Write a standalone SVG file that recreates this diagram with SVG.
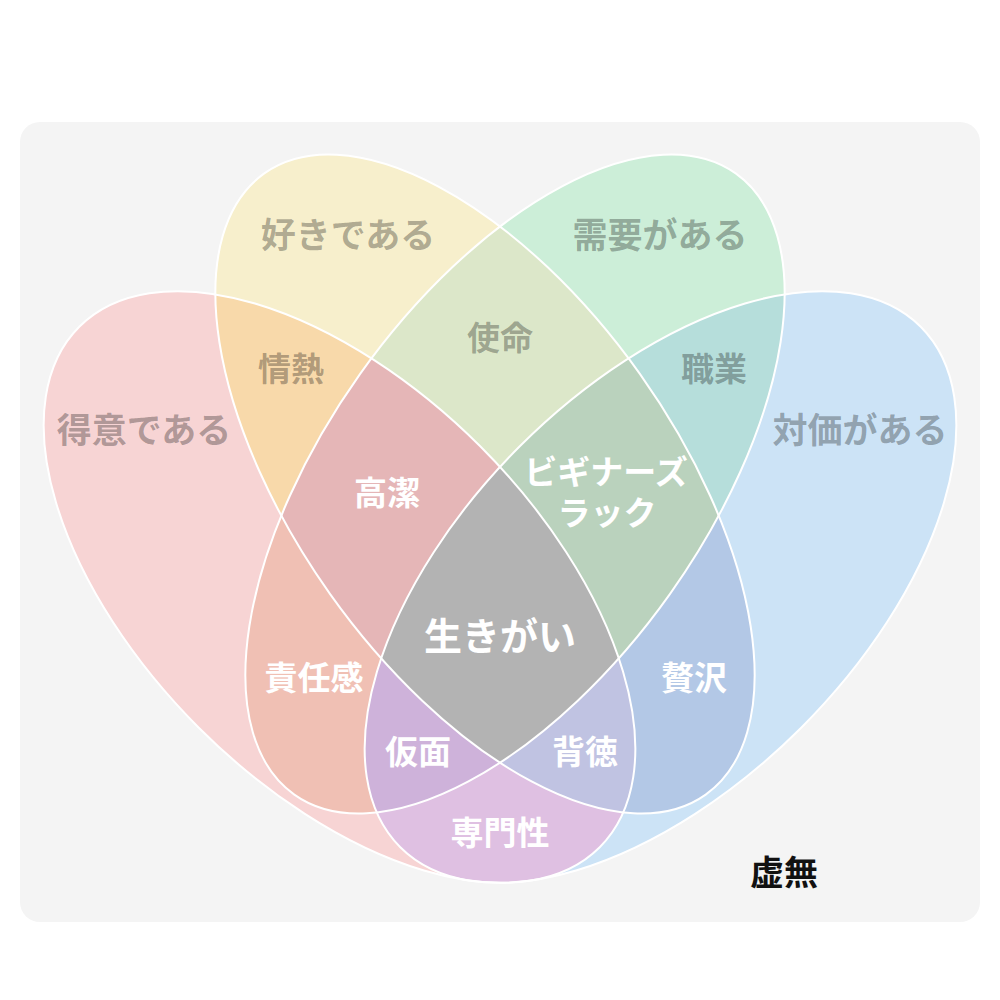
<svg xmlns="http://www.w3.org/2000/svg" xmlns:xlink="http://www.w3.org/1999/xlink" width="1000" height="1000" viewBox="0 0 1000 1000">
  <style>
    .lbl { font-family: "Noto Sans CJK JP", "Noto Sans", sans-serif; font-weight: 700; text-anchor: middle; }
    .outer { font-size: 35px; fill: #000; fill-opacity: 0.3; }
    .inner { font-size: 33px; fill: #000; fill-opacity: 0.3; }
    .white { font-size: 33px; fill: #ffffff; }
    .big { font-size: 38px; fill: #ffffff; }
    .void { font-size: 34px; fill: #111111; }
    .outline { fill: none; stroke: #ffffff; stroke-width: 2; }
  </style>
  <defs>
    <ellipse id="eR" cx="0" cy="0" rx="368" ry="199" transform="translate(339.5 587) rotate(45)"/>
    <ellipse id="eY" cx="0" cy="0" rx="381" ry="190" transform="translate(485 484) rotate(54.6)"/>
    <ellipse id="eG" cx="0" cy="0" rx="381" ry="190" transform="translate(515 484) rotate(-54.6)"/>
    <ellipse id="eB" cx="0" cy="0" rx="368" ry="199" transform="translate(660.5 587) rotate(-45)"/>
    <clipPath id="cR"><use xlink:href="#eR"/></clipPath>
    <clipPath id="cY"><use xlink:href="#eY"/></clipPath>
    <clipPath id="cG"><use xlink:href="#eG"/></clipPath>
    <clipPath id="cB"><use xlink:href="#eB"/></clipPath>
  </defs>

  <rect id="universe" x="20" y="122" width="960" height="800" rx="20" ry="20" fill="#f4f4f4"/>

  <g id="regions">
    <!-- single sets -->
    <use xlink:href="#eR" fill="#f7d4d4"/>
    <use xlink:href="#eB" fill="#cce3f6"/>
    <use xlink:href="#eY" fill="#f7efcc"/>
    <use xlink:href="#eG" fill="#cceed8"/>
    <!-- pairs -->
    <g clip-path="url(#cR)"><use xlink:href="#eY" fill="#f8d9aa"/></g>
    <g clip-path="url(#cY)"><use xlink:href="#eG" fill="#dce7c9"/></g>
    <g clip-path="url(#cG)"><use xlink:href="#eB" fill="#b6dedb"/></g>
    <g clip-path="url(#cR)"><use xlink:href="#eB" fill="#dfc0e2"/></g>
    <g clip-path="url(#cR)"><use xlink:href="#eG" fill="#f0c0b4"/></g>
    <g clip-path="url(#cY)"><use xlink:href="#eB" fill="#b3c8e6"/></g>
    <!-- triples -->
    <g clip-path="url(#cR)"><g clip-path="url(#cY)"><use xlink:href="#eG" fill="#e5b6b7"/></g></g>
    <g clip-path="url(#cY)"><g clip-path="url(#cG)"><use xlink:href="#eB" fill="#bad2bd"/></g></g>
    <g clip-path="url(#cR)"><g clip-path="url(#cG)"><use xlink:href="#eB" fill="#ceb2da"/></g></g>
    <g clip-path="url(#cR)"><g clip-path="url(#cY)"><use xlink:href="#eB" fill="#c0c3e2"/></g></g>
    <!-- all four -->
    <g clip-path="url(#cR)"><g clip-path="url(#cY)"><g clip-path="url(#cG)"><use xlink:href="#eB" fill="#b3b3b3"/></g></g></g>
  </g>

  <g id="outlines">
    <use xlink:href="#eR" class="outline"/>
    <use xlink:href="#eB" class="outline"/>
    <use xlink:href="#eY" class="outline"/>
    <use xlink:href="#eG" class="outline"/>
  </g>

  <g id="label-tokui"><text class="lbl outer" x="144" y="443">得意である</text></g>
  <g id="label-suki"><text class="lbl outer" x="348" y="248">好きである</text></g>
  <g id="label-juyou"><text class="lbl outer" x="660" y="248">需要がある</text></g>
  <g id="label-taika"><text class="lbl outer" x="860" y="443">対価がある</text></g>
  <g id="label-shimei"><text class="lbl inner" x="500" y="350">使命</text></g>
  <g id="label-jounetsu"><text class="lbl inner" x="291" y="381">情熱</text></g>
  <g id="label-shokugyou"><text class="lbl inner" x="714" y="381">職業</text></g>
  <g id="label-kouketsu"><text class="lbl white" x="387" y="505">高潔</text></g>
  <g id="label-beginners"><text class="lbl white" x="606" y="484">ビギナーズ<tspan x="607" y="525">ラック</tspan></text></g>
  <g id="label-ikigai"><text class="lbl big" x="500" y="650">生きがい</text></g>
  <g id="label-sekinin"><text class="lbl white" x="314" y="690">責任感</text></g>
  <g id="label-zeitaku"><text class="lbl white" x="694" y="690">贅沢</text></g>
  <g id="label-kamen"><text class="lbl white" x="418" y="764">仮面</text></g>
  <g id="label-haitoku"><text class="lbl white" x="585" y="764">背徳</text></g>
  <g id="label-senmon"><text class="lbl white" x="500" y="845">専門性</text></g>
  <g id="label-kyomu"><text class="lbl void" x="784" y="885">虚無</text></g>
</svg>
